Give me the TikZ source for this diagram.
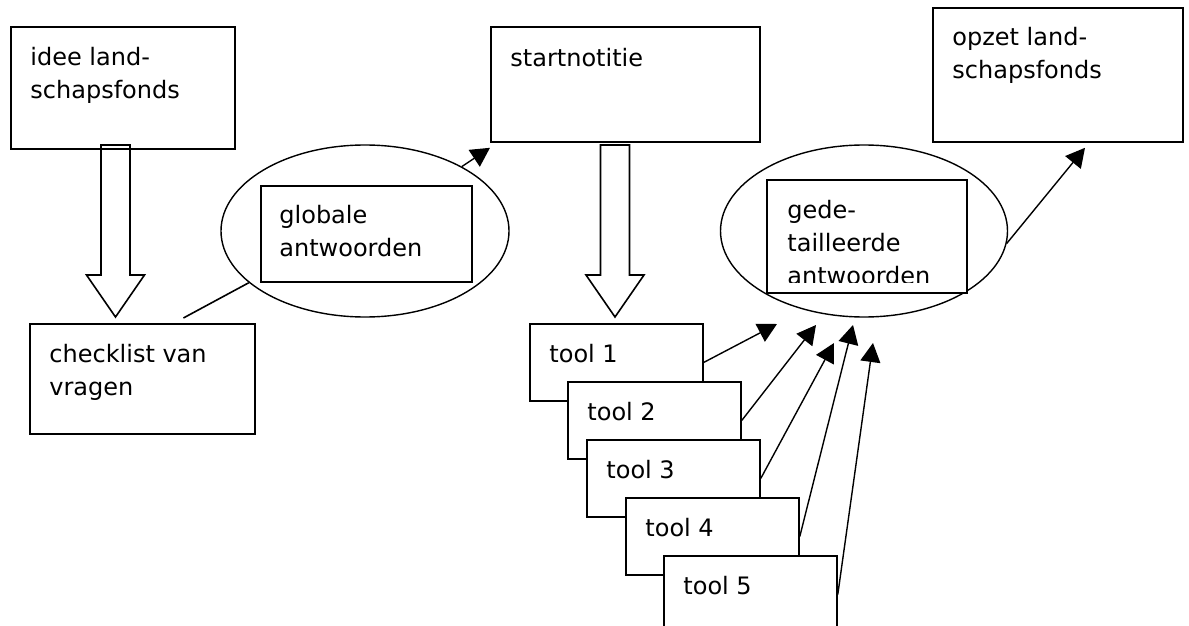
\documentclass[tikz,border=0pt]{standalone}
\usepackage{fontspec}
\setmainfont{DejaVu Sans}
\usetikzlibrary{shapes.geometric, arrows.meta}

\tikzset{
	box/.style = {draw, line width=0.9pt, fill=white, inner sep=0pt, anchor=north west},
	txt/.style = {inner sep=0pt, anchor=north west, align=left, font=\fontsize{12pt}{16.5pt}\selectfont},
	oval/.style = {ellipse, draw, line width=0.7pt, inner sep=0pt},
	arr/.style = {-{Triangle[length=9.5pt, width=10pt]}, line width=0.7pt},
	bigarrow/.pic = {
		\draw[line width=0.8pt, line join=miter] (-14.5,0) -- (14.5,0) -- (14.5,130) -- (29,130) -- (0,172) -- (-29,130) -- (-14.5,130) -- cycle;
	}
}

\begin{document}
\begin{tikzpicture}[x=0.5pt, y=-0.5pt]
	% page frame
	\clip (0,0) rectangle (1189,626);

	% top row
	\node[box, minimum width=112pt, minimum height=61pt] (idee) at (10,26) {};
	\node[txt] (idee-txt) at ([shift={(20,21)}]idee.north west) {idee land-\\schapsfonds};

	\node[box, minimum width=134.5pt, minimum height=57.5pt] (start) at (490,26) {};
	\node[txt] (start-txt) at ([shift={(20,22)}]start.north west) {startnotitie};

	\node[box, minimum width=125pt, minimum height=67pt] (opzet) at (932,7) {};
	\node[txt] (opzet-txt) at ([shift={(20,20)}]opzet.north west) {opzet land-\\schapsfonds};

	% big arrows
	\pic (down1) at (115.5,145) {bigarrow};
	\pic (down2) at (615,145) {bigarrow};

	% checklist
	\node[box, minimum width=112.5pt, minimum height=55pt] (check) at (29,323) {};
	\node[txt] (check-txt) at ([shift={(20,21)}]check.north west) {checklist van\\vragen};

	% answers
	\node[oval, minimum width=144pt, minimum height=86pt] (glob-ell) at (365,231) {};
	\node[box, minimum width=105.5pt, minimum height=48pt] (glob) at (260,185) {};
	\node[txt] (glob-txt) at ([shift={(19,20)}]glob.north west) {globale\\antwoorden};

	\node[oval, minimum width=143.5pt, minimum height=86pt] (gede-ell) at (864,231) {};
	\node[box, minimum width=100pt, minimum height=56.5pt] (gede) at (766,179) {};
	\begin{scope}
		\clip (gede.north west) rectangle ([shift={(0,-11)}]gede.south east);
		\node[txt] (gede-txt) at ([shift={(21,21)}]gede.north west) {gede-\\tailleerde\\antwoorden};
	\end{scope}

	\draw[line width=0.8pt] (glob-ell.204) -- ([shift={(41,-5)}]check.north);
	\draw[arr] (glob-ell) -- ([shift={(0,5)}]start.south west);
	\draw[arr] (gede-ell.-5) -- ([shift={(153,5)}]opzet.south west);

	% tools
	\foreach \i/\x/\y in {1/529/323, 2/567/381, 3/586/439, 4/625/497, 5/663/555} {
		\node[box, minimum width=86.5pt, minimum height=38.5pt] (tool\i) at (\x,\y) {};
		\node[txt] (tool\i-txt) at ([shift={(20,21)}]tool\i.north west) {tool \i};
	}
	\foreach \i/\x/\y in {1/777/324, 2/816/325, 3/834/343, 4/853/325, 5/873/343} {
		\coordinate (tip\i) at (\x,\y);
		\draw[arr] (tool\i.east) -- (tip\i);
	}
\end{tikzpicture}
\end{document}
